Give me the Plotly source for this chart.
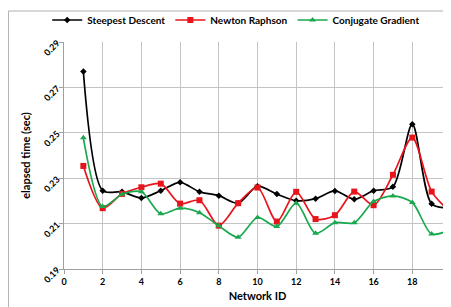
import plotly.graph_objects as go

network_id = list(range(1, 21))
steepest = [0.277, 0.2245, 0.224, 0.2213, 0.2245, 0.2282, 0.224, 0.2223, 0.219, 0.2265,
            0.223, 0.2201, 0.221, 0.2244, 0.2207, 0.2245, 0.2262, 0.2538, 0.2187, 0.2169]
newton = [0.2354, 0.2168, 0.2231, 0.226, 0.2276, 0.2188, 0.2203, 0.2091, 0.219, 0.2259,
          0.2109, 0.224, 0.212, 0.2137, 0.2241, 0.2181, 0.2315, 0.2479, 0.2241, 0.2148]
conjugate = [0.2478, 0.2175, 0.2229, 0.224, 0.2143, 0.2168, 0.2148, 0.209, 0.204, 0.2127,
             0.2087, 0.219, 0.2057, 0.2104, 0.2104, 0.2197, 0.2222, 0.2193, 0.2054, 0.2075]

x_ticks = [0, 2, 4, 6, 8, 10, 12, 14, 16, 18, 20]
y_ticks = [0.19, 0.21, 0.23, 0.25, 0.27, 0.29]

FONT = "Lato"

fig = go.Figure()
fig.add_trace(go.Scatter(x=network_id, y=steepest, name="<b>Steepest Descent</b>", mode="lines+markers",
                         line=dict(color="black", width=1.7, shape="spline", smoothing=0.8),
                         marker=dict(symbol="diamond", size=5, color="black")))
fig.add_trace(go.Scatter(x=network_id, y=newton, name="<b>Newton Raphson</b>", mode="lines+markers",
                         line=dict(color="#e8141b", width=1.7, shape="spline", smoothing=0.8),
                         marker=dict(symbol="square", size=6, color="#e8141b")))
fig.add_trace(go.Scatter(x=network_id, y=conjugate, name="<b>Conjugate Gradient</b>", mode="lines+markers",
                         line=dict(color="#1aa84f", width=1.7, shape="spline", smoothing=0.8),
                         marker=dict(symbol="triangle-up", size=6, color="#1aa84f")))

W, H = 443, 299
L, T, B = 56, 34, 38
PW = 386.6
PH = H - T - B

fig.update_layout(
    width=W, height=H,
    margin=dict(l=L, r=W - L - PW, t=T, b=B, autoexpand=False),
    paper_bgcolor="white", plot_bgcolor="white",
    font=dict(family=FONT, color="black"),
    showlegend=True,
    legend=dict(orientation="h", x=0.445, xanchor="center", y=1 + 22 / PH, yanchor="middle",
                font=dict(family=FONT, size=10, color="black"), itemwidth=30,
                tracegroupgap=0, bgcolor="rgba(0,0,0,0)"),
    xaxis=dict(range=[0, 20], tickvals=x_ticks, ticktext=[str(v) for v in x_ticks],
               automargin=False, ticklabeloverflow="allow",
               showgrid=True, gridcolor="#c4c4c4", gridwidth=1.3,
               showline=True, linecolor="#a0a0a0", linewidth=1,
               ticks="outside", ticklen=4, tickcolor="#a0a0a0",
               tickfont=dict(family=FONT, size=9, color="black", weight="bold"),
               title=dict(text="<b>Network ID</b>", font=dict(family=FONT, size=11), standoff=6),
               zeroline=False),
    yaxis=dict(range=[0.19, 0.29], tickvals=y_ticks, ticktext=[f"{v:.2f}" for v in y_ticks],
               automargin=False, ticklabeloverflow="allow",
               showgrid=True, gridcolor="#c4c4c4", gridwidth=1,
               showline=True, linecolor="#a0a0a0", linewidth=1,
               ticks="outside", ticklen=4, tickcolor="#a0a0a0", tickangle=-45,
               tickfont=dict(family=FONT, size=9, color="black", weight="bold"),
               title=dict(text="<b>elapsed time (sec)</b>", font=dict(family=FONT, size=11), standoff=8),
               zeroline=False),
)

fig.add_shape(type="rect", xref="paper", yref="paper",
              x0=(0.5 - L) / PW, x1=1.2, y0=-0.4, y1=(PH + T - 3) / PH,
              line=dict(color="#b0b0b0", width=1), layer="below")

fig.write_html("out.html")
